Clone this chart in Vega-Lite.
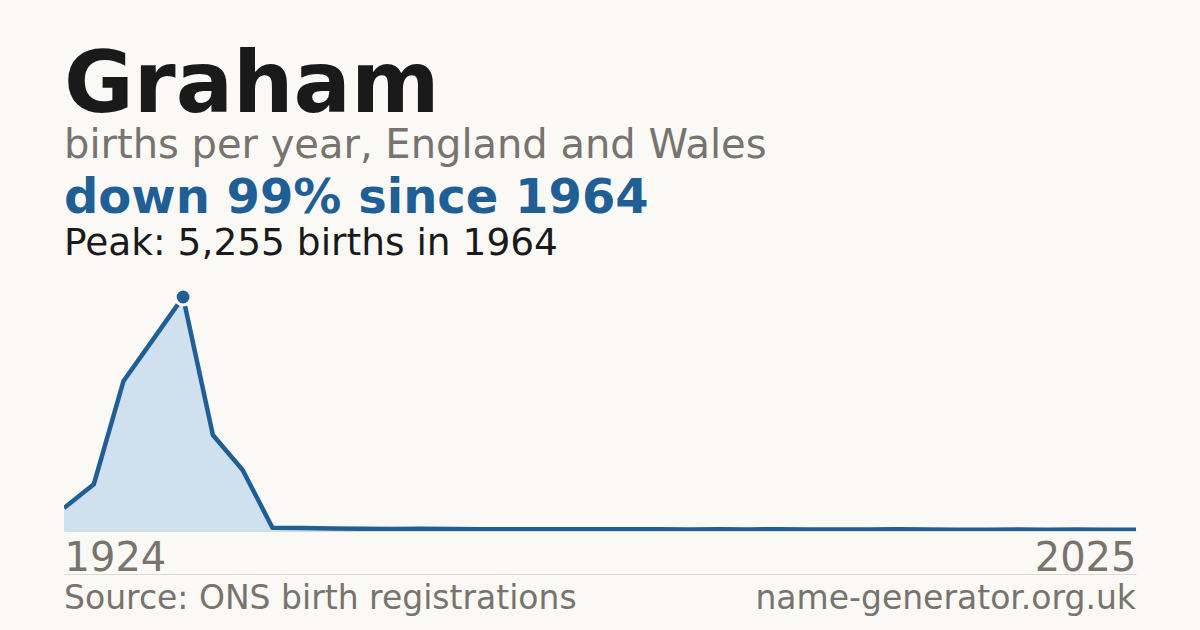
{
  "$schema": "https://vega.github.io/schema/vega-lite/v6.json",
  "background": "#faf9f5",
  "padding": {"left": 64, "right": 64, "top": 44, "bottom": 14},
  "config": {"font": "DejaVu Sans", "view": {"stroke": null}},
  "title": {
    "text": "Graham",
    "subtitle": "births per year, England and Wales",
    "anchor": "start",
    "frame": "group",
    "font": "DejaVu Sans",
    "fontSize": 85,
    "fontWeight": "bold",
    "color": "#1a1a1a",
    "subtitleFont": "DejaVu Sans",
    "subtitleFontSize": 40,
    "subtitleColor": "#78736c",
    "subtitlePadding": -4,
    "offset": 8
  },
  "bounds": "flush",
  "spacing": 43,
  "vconcat": [
    {
      "width": 1072,
      "height": 234,
      "title": {
        "text": "down 99% since 1964",
        "subtitle": "Peak: 5,255 births in 1964",
        "anchor": "start",
        "frame": "group",
        "font": "DejaVu Sans",
        "fontSize": 48,
        "fontWeight": "bold",
        "color": "#1f5f96",
        "subtitleFont": "DejaVu Sans",
        "subtitleFontSize": 37.5,
        "subtitleColor": "#1a1a1a",
        "subtitlePadding": 2,
        "offset": 20.5
      },
      "data": {
        "values": [
          {"year": 1924, "births": 516},
          {"year": 1934, "births": 1049},
          {"year": 1944, "births": 3369},
          {"year": 1954, "births": 4310},
          {"year": 1964, "births": 5255},
          {"year": 1974, "births": 2156},
          {"year": 1984, "births": 1370},
          {"year": 1996, "births": 74},
          {"year": 1997, "births": 70},
          {"year": 1998, "births": 58},
          {"year": 1999, "births": 52},
          {"year": 2000, "births": 46},
          {"year": 2001, "births": 50},
          {"year": 2002, "births": 44},
          {"year": 2003, "births": 42},
          {"year": 2004, "births": 40},
          {"year": 2005, "births": 40},
          {"year": 2006, "births": 38},
          {"year": 2007, "births": 40},
          {"year": 2008, "births": 38},
          {"year": 2009, "births": 38},
          {"year": 2010, "births": 36},
          {"year": 2011, "births": 38},
          {"year": 2012, "births": 36},
          {"year": 2013, "births": 38},
          {"year": 2014, "births": 36},
          {"year": 2015, "births": 32},
          {"year": 2016, "births": 34},
          {"year": 2017, "births": 38},
          {"year": 2018, "births": 32},
          {"year": 2019, "births": 30},
          {"year": 2020, "births": 30},
          {"year": 2021, "births": 33},
          {"year": 2022, "births": 30},
          {"year": 2023, "births": 34},
          {"year": 2024, "births": 28},
          {"year": 2025, "births": 27}
        ]
      },
      "encoding": {
        "x": {
          "field": "year",
          "type": "ordinal",
          "scale": {"type": "point", "padding": 0},
          "axis": {
            "values": [1924, 2025],
            "title": null,
            "labelAngle": 0,
            "labelFont": "DejaVu Sans",
            "labelFontSize": 40,
            "labelColor": "#78736c",
            "ticks": false,
            "tickSize": 0,
            "labelPadding": 7,
            "domainColor": "#dcd9d2",
            "domainWidth": 1,
            "grid": false,
            "labelAlign": {"condition": {"test": "datum.value == 1924", "value": "left"}, "value": "right"}
          }
        },
        "y": {
          "field": "births",
          "type": "quantitative",
          "scale": {"domain": [0, 5255], "nice": false, "zero": true},
          "axis": null
        }
      },
      "layer": [
        {"mark": {"type": "area", "color": "#d0e0ef", "opacity": 1, "clip": true}},
        {"mark": {"type": "line", "color": "#1f5f96", "strokeWidth": 4.5, "strokeJoin": "round", "clip": true}},
        {
          "transform": [{"filter": "datum.births == 5255"}],
          "mark": {"type": "point", "filled": true, "size": 250, "color": "#1f5f96", "stroke": "#faf9f5", "strokeWidth": 3, "opacity": 1}
        }
      ]
    },
    {
      "width": 1072,
      "height": 18,
      "data": {
        "values": [
          {"side": "left", "label": "Source: ONS birth registrations"},
          {"side": "right", "label": "name-generator.org.uk"}
        ]
      },
      "encoding": {
        "x": {
          "field": "side",
          "type": "nominal",
          "scale": {"type": "point", "padding": 0, "domain": ["left", "right"]},
          "axis": {"orient": "top", "labels": false, "ticks": false, "title": null, "grid": false, "domainColor": "#dcd9d2", "domainWidth": 1}
        },
        "text": {"field": "label"}
      },
      "layer": [
        {
          "transform": [{"filter": "datum.side == 'left'"}],
          "mark": {"type": "text", "font": "DejaVu Sans", "fontSize": 33, "color": "#78736c", "baseline": "top", "align": "left"}
        },
        {
          "transform": [{"filter": "datum.side == 'right'"}],
          "mark": {"type": "text", "font": "DejaVu Sans", "fontSize": 33, "color": "#78736c", "baseline": "top", "align": "right"}
        }
      ]
    }
  ]
}
